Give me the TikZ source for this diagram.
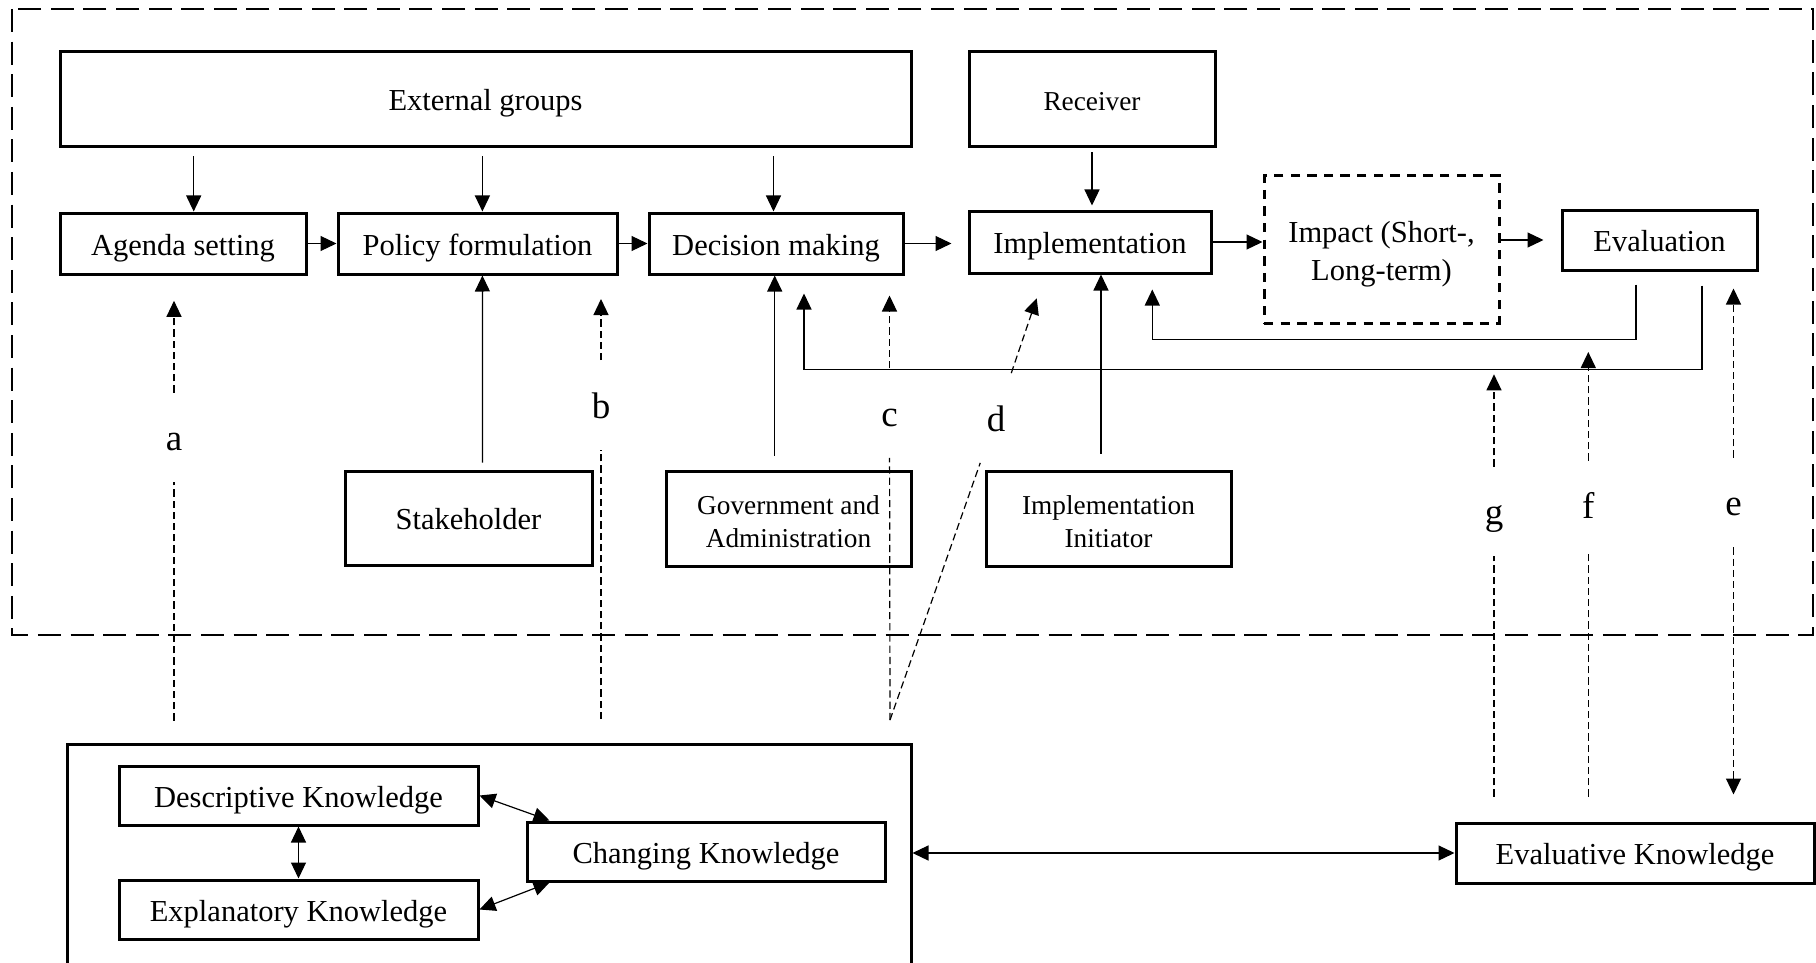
\documentclass[tikz,border=0pt]{standalone}
\usepackage{fontspec}
\setmainfont{Liberation Serif}
\usetikzlibrary{arrows.meta}

\newcommand{\mainsz}{\fontsize{15.25}{18}\selectfont}
\newcommand{\smallsz}{\fontsize{13.65}{16.5}\selectfont}
\newcommand{\lblsz}{\fontsize{18.5}{20}\selectfont}

\begin{document}
\begin{tikzpicture}[x=0.5pt,y=-0.5pt,
    box/.style={draw, line width=1.5pt, inner sep=0pt, align=center, font=\mainsz, text height=11.5pt, text depth=0pt},
    twobox/.style={draw, line width=1.5pt, inner sep=0pt, align=center, font=\smallsz, text height=28.7pt},
    impactbox/.style={twobox, dash pattern=on 4.7pt off 3.6pt, font=\fontsize{15.25}{19}\selectfont, text height=34pt},
    frame/.style={line width=1.3pt, dash pattern=on 11.5pt off 4.8pt},
    lbl/.style={inner sep=0pt, minimum width=16pt, minimum height=44.5pt, font=\lblsz, text height=13pt, text depth=0pt},
    arr/.style={line width=0.6pt, -{Triangle[length=8pt,width=7.5pt]}},
    dblarr/.style={line width=0.6pt, {Triangle[length=8pt,width=7.5pt]}-{Triangle[length=8pt,width=7.5pt]}},
    dline/.style={line width=0.6pt, dash pattern=on 3.6pt off 2pt},
    darr/.style={arr, dash pattern=on 3.6pt off 2pt}]
    \useasboundingbox (0,0) rectangle (1816,963);

    % policy cycle
    \draw[frame] (12,9) rectangle (1813,635);
    \node[box, minimum width=425.5pt, minimum height=47.5pt] (ext) at (485.5,99.5) {External groups};
    \node[box, font=\smallsz, minimum width=123pt, minimum height=47.5pt] (recv) at (1092,99.5) {Receiver};
    \node[box, minimum width=123pt, minimum height=30.5pt] (agenda) at (183,243.5) {Agenda setting};
    \node[box, minimum width=139.5pt, minimum height=30.5pt] (policy) at (477.5,243.5) {Policy formulation};
    \node[box, minimum width=127pt, minimum height=30.5pt] (decision) at (776,243.5) {Decision making};
    \node[box, minimum width=121pt, minimum height=31pt] (impl) at (1090,242) {Implementation};
    \node[impactbox, minimum width=117.5pt, minimum height=73.5pt] (impact) at (1381.5,249.5) {Impact (Short-,\\Long-term)};
    \node[box, minimum width=97.5pt, minimum height=30pt] (eval) at (1659.5,240) {Evaluation};
    \node[box, minimum width=123.5pt, minimum height=47pt] (stake) at (468.5,518) {Stakeholder};
    \node[twobox, minimum width=122.5pt, minimum height=47.5pt] (gov) at (788.5,518.5) {Government and\\Administration};
    \node[twobox, minimum width=122.5pt, minimum height=47.5pt] (init) at (1108.5,518.5) {Implementation\\Initiator};

    % knowledge
    \node[box, minimum width=422pt, minimum height=128pt] (kframe) at (489,872) {};
    \node[box, minimum width=179.5pt, minimum height=29.5pt] (desc) at (298.5,795.5) {Descriptive Knowledge};
    \node[box, minimum width=179.5pt, minimum height=29.5pt] (expl) at (298.5,909.5) {Explanatory Knowledge};
    \node[box, minimum width=179pt, minimum height=29.5pt] (chg) at (706,851.5) {Changing Knowledge};
    \node[box, minimum width=179pt, minimum height=30pt] (evk) at (1635,853) {Evaluative Knowledge};

    % labels of the knowledge links
    \node[lbl] (la) at (174,437.5) {a};
    \node[lbl] (lb) at (601,405) {b};
    \node[lbl] (lc) at (889.5,413) {c};
    \node[lbl] (ld) at (996,418) {d};
    \node[lbl] (le) at (1733.5,502.5) {e};
    \node[lbl] (lf) at (1588.3,505.5) {f};
    \node[lbl] (lg) at (1494,511.5) {g};
    \coordinate (cd) at (890,720);
    \coordinate (dtip) at (1036.7,298.3);
    \coordinate (ftip) at (1588.3,352);
    \coordinate (gtip) at (1494,374.3);

    % main flow
    \draw[arr, shorten <=4pt] ([xshift=-145.9pt]ext.south) -- ([xshift=5.35pt]agenda.north);
    \draw[arr, shorten <=4pt] ([xshift=-1.55pt]ext.south) -- ([xshift=2.45pt]policy.north);
    \draw[arr, shorten <=4pt] ([xshift=144pt]ext.south) -- ([xshift=-1.25pt]decision.north);
    \draw[arr, shorten <=2pt, shorten >=2pt] (recv.south) -- (recv.south |- impl.north);
    \draw[arr] (agenda.east) -- (policy.west);
    \draw[arr] (policy.east) -- (decision.west);
    \draw[arr, shorten >=8pt] (decision.east) -- (decision.east -| impl.west);
    \draw[arr] (impl.east) -- (impl.east -| impact.west);
    \draw[arr, shorten >=8.5pt] (impact.east |- eval.west) -- (eval.west);

    % actors
    \draw[arr, shorten <=3.5pt] ([xshift=7pt]stake.north) -- ([xshift=2.45pt]policy.south);
    \draw[arr, shorten <=7pt] ([xshift=-6.9pt]gov.north) -- ([xshift=-0.65pt]decision.south);
    \draw[arr, shorten <=8pt] ([xshift=-3.75pt]init.north) -- ([xshift=5.5pt]impl.south);

    % feedback from evaluation
    \draw[arr, shorten <=6.5pt, shorten >=7.5pt] ([xshift=-11.75pt]eval.south) -- ++(0,68) -| ([xshift=31.15pt]impl.south);
    \draw[arr, shorten <=7pt, shorten >=9pt] ([xshift=21.25pt]eval.south) -- ++(0,98) -| ([xshift=14pt]decision.south);

    % knowledge links
    \draw[dline, shorten <=11pt] (la |- kframe.north) -- (la);
    \draw[darr, shorten >=12.65pt] (la) -- (la |- agenda.south);
    \draw[dline, shorten <=11.75pt] (lb |- kframe.north) -- (lb);
    \draw[darr, shorten >=11.75pt] (lb) -- (lb |- policy.south);
    \draw[dline] (cd) -- (lc);
    \draw[darr, shorten >=10pt] (lc) -- (lc |- decision.south);
    \draw[dline] (cd) -- (ld);
    \draw[darr] (ld) -- (dtip);
    \draw[darr, shorten >=8.5pt] (le) -- (le |- eval.south);
    \draw[darr, shorten >=13.5pt] (le) -- (le |- evk.north);
    \draw[dline, shorten <=12.5pt] (lf |- evk.north) -- (lf);
    \draw[darr] (lf) -- (ftip);
    \draw[dline, shorten <=12.5pt] (lg |- evk.north) -- (lg);
    \draw[darr] (lg) -- (gtip);
    \draw[dblarr] (desc.south) -- (expl.north);
    \draw[dblarr] (desc.east) -- ([xshift=12pt]chg.north west);
    \draw[dblarr] (expl.east) -- ([xshift=12pt]chg.south west);
    \draw[dblarr] (kframe.east |- evk.west) -- (evk.west);
\end{tikzpicture}
\end{document}
